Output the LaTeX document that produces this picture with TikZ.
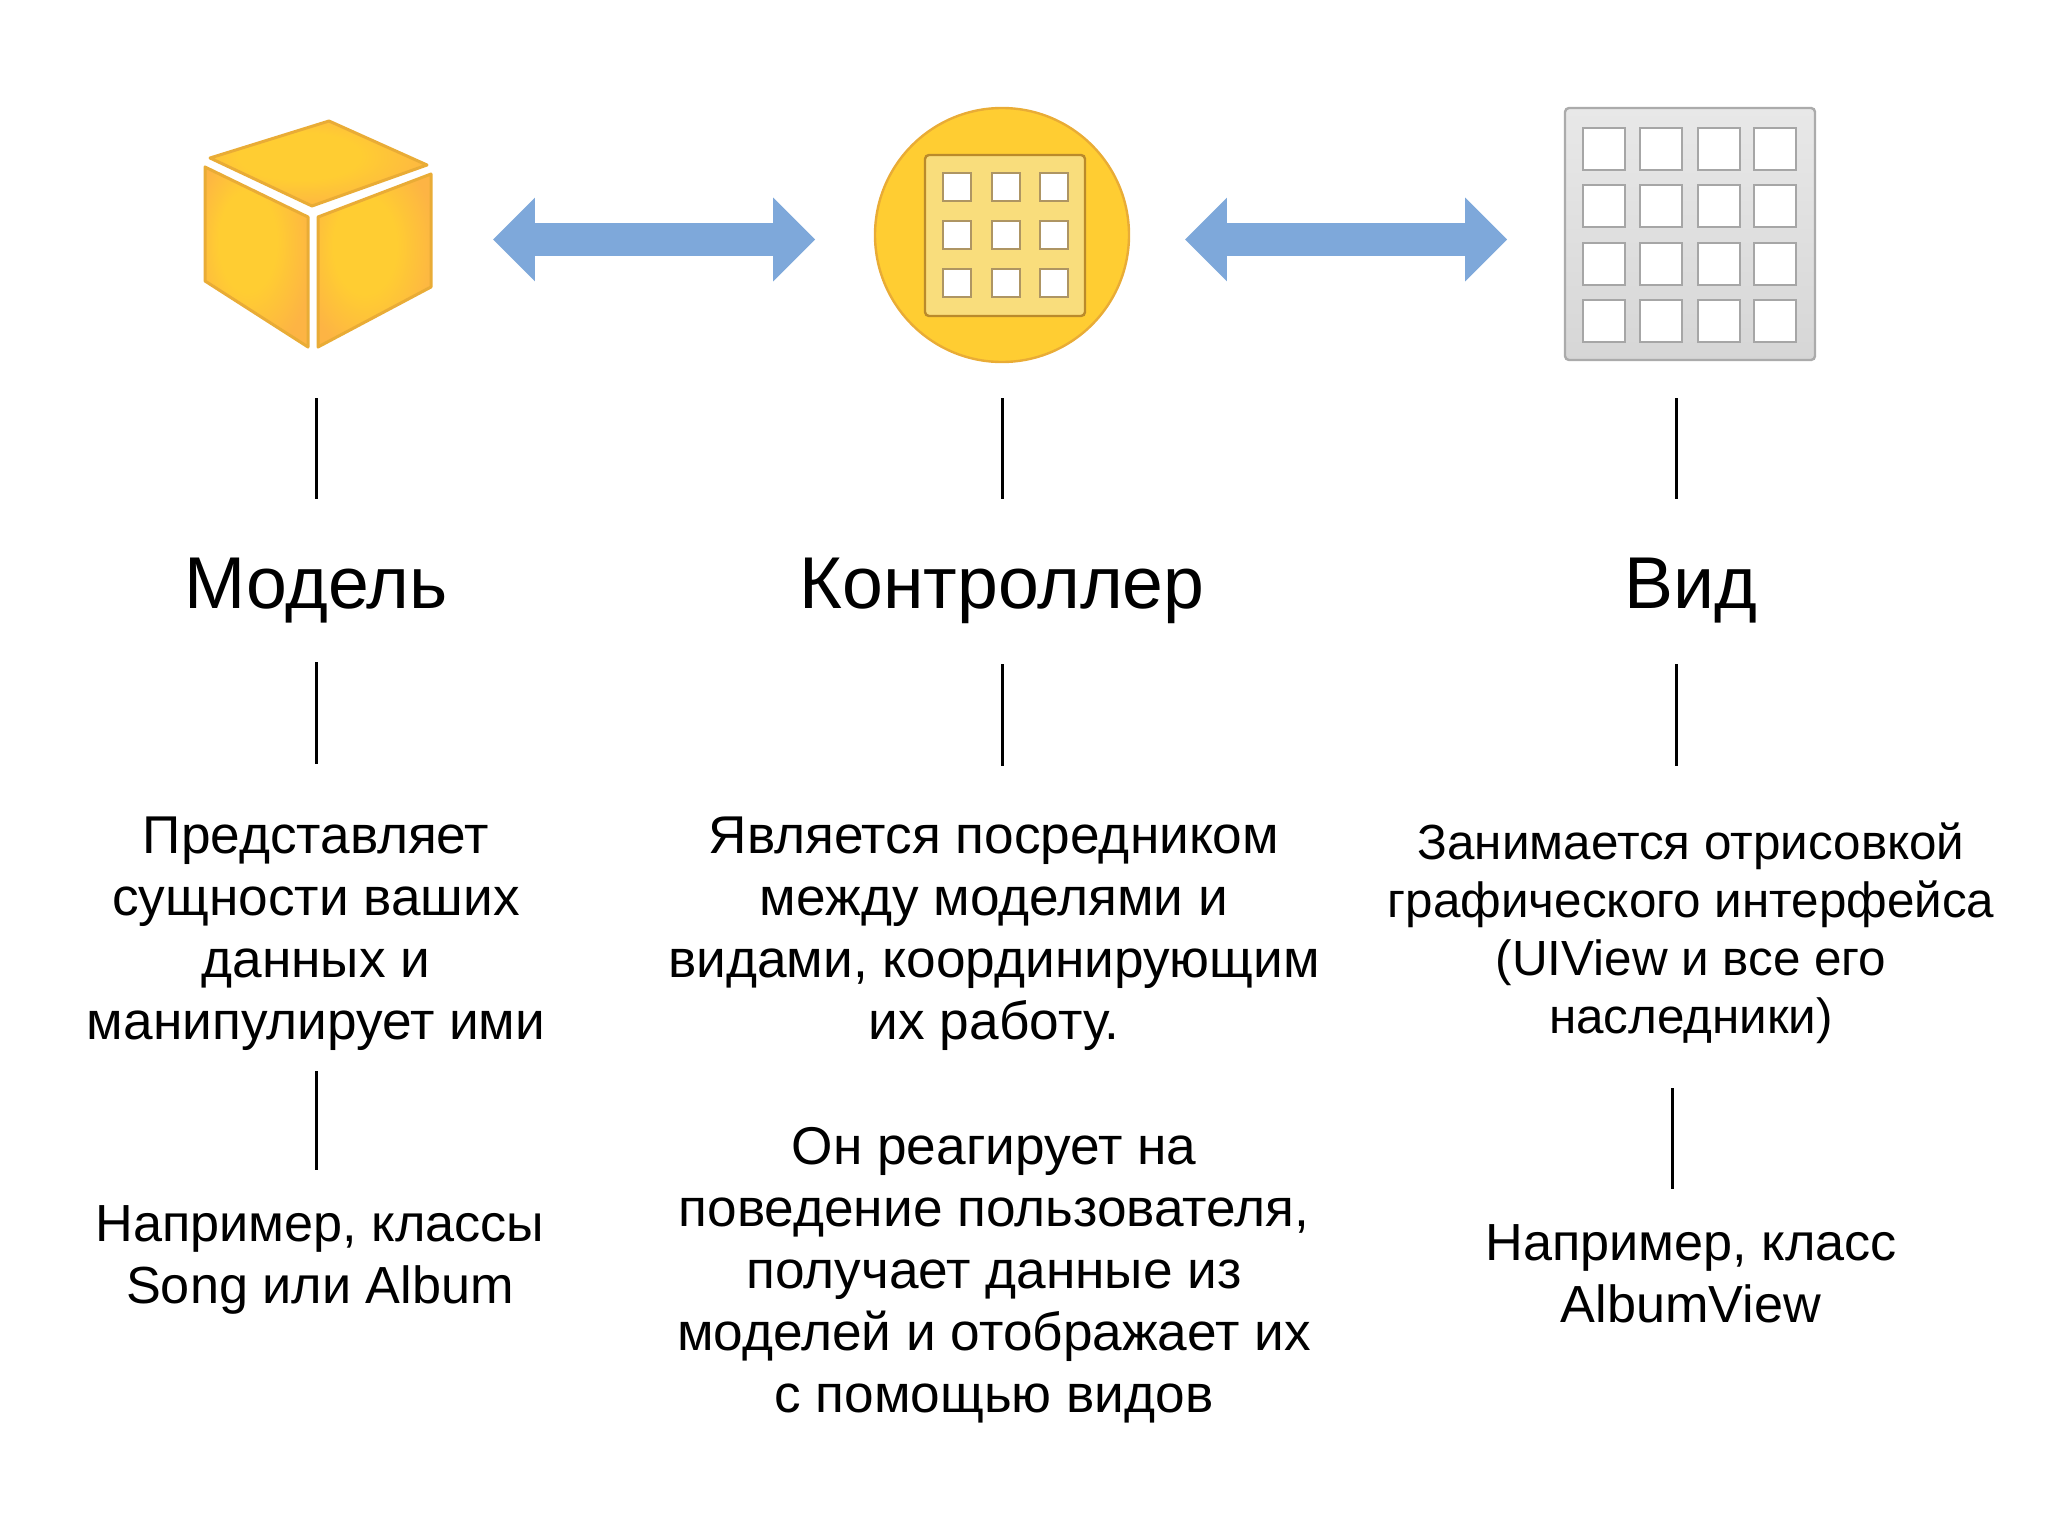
\documentclass[tikz,border=0pt]{standalone}
\usepackage{fontspec}
\setmainfont{Liberation Sans}
\usetikzlibrary{shapes.arrows}
\definecolor{sunyellow}{HTML}{FFCD32}
\definecolor{sunorange}{HTML}{FDB444}
\definecolor{sunedge}{HTML}{E9AC36}
\definecolor{paleyellow}{HTML}{F9DD7C}
\definecolor{linkblue}{HTML}{7EA8DA}
\pgfdeclareradialshading{facefill}{\pgfpoint{-6bp}{6bp}}{color(0bp)=(sunyellow); color(14bp)=(sunyellow); color(30bp)=(sunorange); color(50bp)=(sunorange)}
\tikzset{
    face/.style={draw=sunedge,line width=1.5pt,line join=round,shading=facefill},
    link/.style={double arrow,fill=linkblue,minimum width=41.5pt,minimum height=161pt,inner xsep=0pt,inner ysep=8pt,outer sep=0pt,
        double arrow head extend=12.75pt,double arrow tip angle=90},
    cell/.style={draw=#1,line width=1.4pt,fill=white},
    title/.style={font=\fontsize{36.7}{41}\selectfont},
    body/.style={font=\fontsize{26.6}{31}\selectfont,align=center},
    sample/.style={font=\fontsize{26.1}{31}\selectfont,align=center},
    bodyview/.style={font=\fontsize{24.7}{29}\selectfont,align=center},
    tick/.style={line width=1.5pt,black}
}
\begin{document}
\begin{tikzpicture}[x=0.5pt,y=-0.5pt]
    \useasboundingbox (0,0) rectangle (2048,1536);
    %% cube
    \draw[face] (329,121) -- (427,165) -- (312,206) -- (210,158) -- cycle;
    \draw[face] (205,167) -- (308,217) -- (308,347) -- (205,281) -- cycle;
    \draw[face] (318,217) -- (431,174) -- (431,287) -- (318,347) -- cycle;
    %% controller
    \draw[sunedge,line width=1.2pt,fill=sunyellow] (1002,235) circle (127);
    \draw[rounded corners=2pt,draw=sunedge!80!black,line width=1.2pt,fill=paleyellow] (925,155) rectangle (1085,316);
    \foreach \x in {957,1006,1054}
        \foreach \y in {187,235,283}
            \draw[cell=sunedge!60!black!70] (\x-14,\y-14) rectangle (\x+14,\y+14);
    %% view
    \draw[rounded corners=2pt,draw=black!33,line width=1.2pt,top color=black!9,bottom color=black!16] (1565,108) rectangle (1815,360);
    \foreach \x in {1604,1661,1719,1775}
        \foreach \y in {149,206,264,321}
            \draw[cell=black!35] (\x-21,\y-21) rectangle (\x+21,\y+21);
    %% arrows
    \node[link] (linkleft) at (654,239.5) {};
    \node[link] (linkright) at (1346,239.5) {};
    %% titles
    \node[title] (model) at (316,591) {Модель};
    \node[title] (controller) at (1002,591) {Контроллер};
    \node[title] (view) at (1691,591) {Вид};
    %% descriptions
    \node[body] (modeltext) at (316,934) {Представляет\\сущности ваших\\данных и\\манипулирует ими};
    \node[sample] (modelsample) at (320,1260) {Например, классы\\Song или Album};
    \node[body] (ctrltext) at (994,934) {Является посредником\\между моделями и\\видами, координирующим\\их работу.};
    \node[body] (ctrlmore) at (994,1275) {Он реагирует на\\поведение пользователя,\\получает данные из\\моделей и отображает их\\с помощью видов};
    \node[bodyview] (viewtext) at (1691,933) {Занимается отрисовкой\\графического интерфейса\\(UIView и все его\\наследники)};
    \node[sample] (viewsample) at (1691,1274) {Например, класс\\AlbumView};
    %% ticks
    \foreach \n/\x/\a/\b in {a/316/398/499,b/1002/398/499,c/1676/398/499,d/316/662/764,e/1002/664/766,f/1676/664/766,g/316/1071/1170,h/1672/1088/1189} {
        \coordinate (\n top) at (\x,\a);
        \coordinate (\n end) at (\x,\b);
        \draw[tick] (\n top) -- (\n end);
    }
\end{tikzpicture}
\end{document}
